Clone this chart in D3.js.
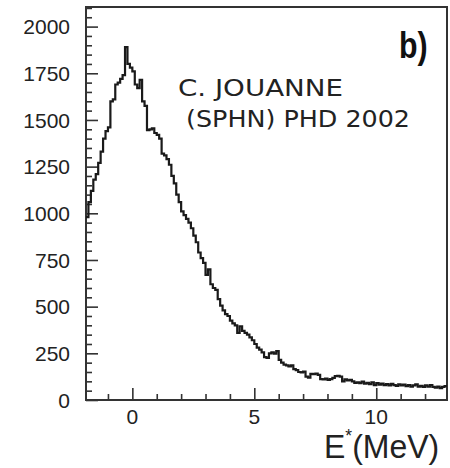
<!DOCTYPE html>
<html>
<head>
<meta charset="utf-8">
<script src="https://cdn.jsdelivr.net/npm/d3@7"></script>
<style>
  body { margin: 0; background: #fff; }
  text { font-family: "Liberation Sans", Arial, sans-serif; fill: #222; }
</style>
</head>
<body>
<div class="canvas"></div>
<script>
// histogram: first bin low edge, bin width (MeV)
const binLow = -1.9;
const binWidth = 0.1;
// counts per bin
const counts = [
  980, 1060, 1120, 1180, 1210, 1270, 1330, 1400, 1440, 1460,
  1600, 1610, 1690, 1700, 1720, 1740, 1890, 1800, 1780, 1760,
  1690, 1670, 1715, 1600, 1575, 1445, 1450, 1455, 1430, 1420,
  1400, 1320, 1310, 1290, 1260, 1200, 1160, 1100, 1060, 1010,
  990, 970, 950, 920, 880, 845, 790, 760, 735, 670,
  700, 620, 600, 590, 540, 505, 480, 460, 450, 425,
  410, 400, 360, 395, 370, 360, 350, 335, 320, 300,
  280, 270, 255, 230, 225, 250, 255, 248, 262, 215,
  200, 190, 185, 180, 185, 165, 160, 150, 148, 152,
  125, 120, 140, 138, 142, 135, 112, 110, 115, 108,
  112, 118, 128, 130, 125, 100, 110, 105, 108, 100,
  92, 95, 90, 98, 88, 92, 85, 95, 80, 90,
  82, 88, 80, 85, 78, 86, 80, 75, 84, 78,
  82, 74, 80, 72, 78, 84, 72, 76, 70, 78,
  72, 80, 70, 66, 72, 64, 70, 75
];
const yTicks = [0, 250, 500, 750, 1000, 1250, 1500, 1750, 2000];
const xTicks = [0, 5, 10];
const labelLines = ['C. JOUANNE', ' (SPHN) PHD 2002'];

const width = 450, height = 468;
const margin = {top: 7, right: 3, bottom: 68, left: 86};
const graphWidth = width - margin.left - margin.right;
const graphHeight = height - margin.top - margin.bottom;

const svg = d3.select('.canvas')
    .append('svg')
        .attr('width', width)
        .attr('height', height);

const graph = svg.append('g')
    .attr('transform', `translate(${margin.left},${margin.top})`);

const x = d3.scaleLinear()
    .domain([-1.9, 12.9])
    .range([0, graphWidth]);

const y = d3.scaleLinear()
    .domain([0, 2105])
    .range([graphHeight, 0]);

// minor ticks
const yMinor = d3.range(0, 2101, 50).filter(v => v % 250 !== 0);
const xMinor = d3.range(-1, 13, 1).filter(v => v % 5 !== 0);

const yAxis = d3.axisRight(y).tickValues(yTicks).tickSize(12).tickFormat('');
const yAxisMinor = d3.axisRight(y).tickValues(yMinor).tickSize(6).tickFormat('');
const xAxis = d3.axisTop(x).tickValues(xTicks).tickSize(12).tickFormat('');
const xAxisMinor = d3.axisTop(x).tickValues(xMinor).tickSize(6).tickFormat('');

[yAxis, yAxisMinor].forEach(a => graph.append('g').call(a));
[xAxis, xAxisMinor].forEach(a => graph.append('g')
    .attr('transform', `translate(0,${graphHeight})`).call(a));

graph.selectAll('.domain').remove();
graph.selectAll('.tick line').attr('stroke', '#333').attr('stroke-width', 1.6);

// tick labels
graph.selectAll('.ylab')
    .data(yTicks)
    .enter()
    .append('text')
    .attr('x', -16)
    .attr('y', d => y(d))
    .attr('dy', '0.36em')
    .attr('text-anchor', 'end')
    .style('font-size', '21px')
    .text(d => d);

graph.selectAll('.xlab')
    .data(xTicks)
    .enter()
    .append('text')
    .attr('x', d => x(d))
    .attr('y', graphHeight + 24)
    .attr('text-anchor', 'middle')
    .style('font-size', '21px')
    .text(d => d);

// frame
graph.append('rect')
    .attr('width', graphWidth)
    .attr('height', graphHeight)
    .attr('fill', 'none')
    .attr('stroke', '#333')
    .attr('stroke-width', 2);

// histogram
const pts = counts.map((c, i) => [binLow + i * binWidth, c]);
pts.push([binLow + counts.length * binWidth, counts[counts.length - 1]]);

const line = d3.line()
    .x(d => x(d[0]))
    .y(d => y(d[1]))
    .curve(d3.curveStepAfter);

graph.append('path')
    .datum(pts)
    .attr('d', line)
    .attr('fill', 'none')
    .attr('stroke', '#1a1a1a')
    .attr('stroke-width', 2.2);

// annotations
svg.append('text')
    .attr('transform', 'translate(399,58) scale(0.82,1)')
    .style('font-size', '37px')
    .style('font-weight', 'bold')
    .style('fill', '#111')
    .text('b)');

svg.selectAll('.note')
    .data(labelLines)
    .enter()
    .append('text')
    .attr('x', 178)
    .attr('y', (d, i) => 96 + i * 31)
    .attr('textLength', (d, i) => i === 0 ? 165 : 232)
    .attr('lengthAdjust', 'spacingAndGlyphs')
    .style('font-family', '"DejaVu Sans", sans-serif')
    .style('font-size', '23px')
    .style('white-space', 'pre')
    .text(d => d);

// axis title
const title = svg.append('text')
    .attr('transform', 'translate(324,458) scale(0.97,1)')
    .style('font-size', '33px');
title.append('tspan').text('E');
title.append('tspan').attr('dy', -16).style('font-size', '18px').text('*');
title.append('tspan').attr('dy', 16).text('(MeV)');
</script>
</body>
</html>
